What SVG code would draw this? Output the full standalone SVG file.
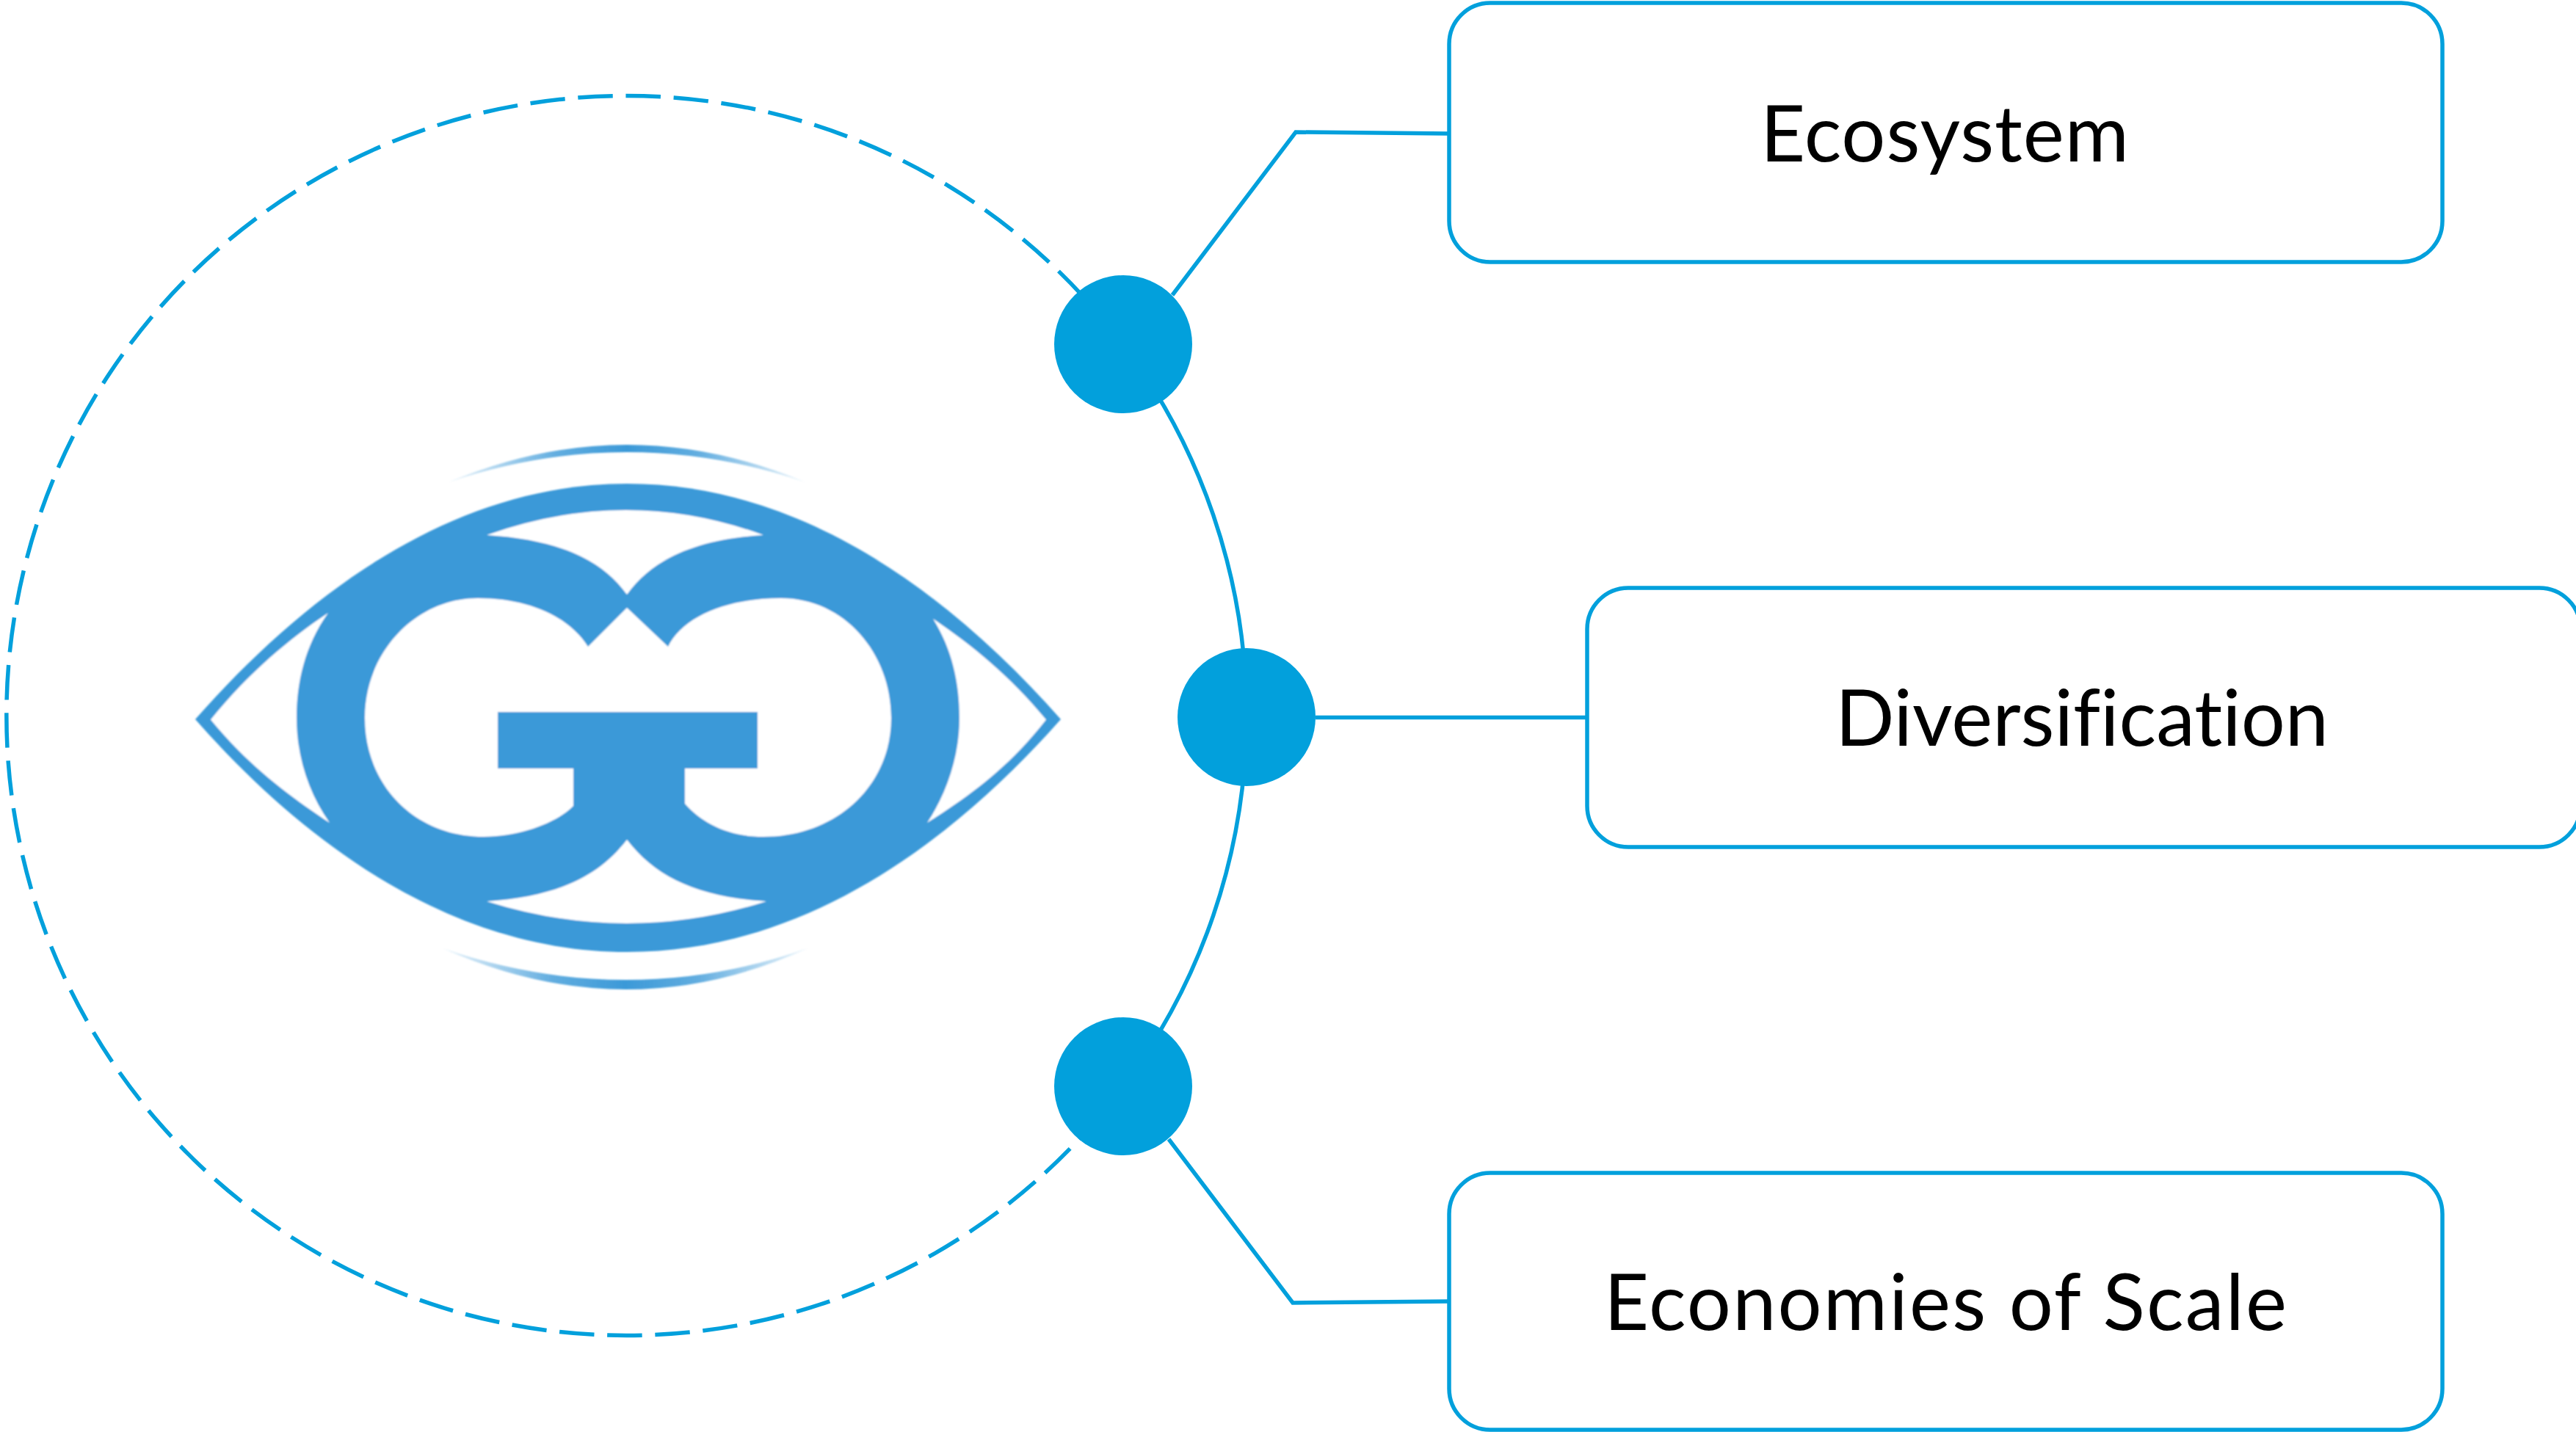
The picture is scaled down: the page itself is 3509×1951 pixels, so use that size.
<svg xmlns="http://www.w3.org/2000/svg" width="3509" height="1951" viewBox="0 0 3509 1951">
<defs>
<style>
.box{fill:#fff;stroke:#02A0DC;stroke-width:5.5}
.dot{fill:#02A0DC}
.line{fill:none;stroke:#02A0DC;stroke-width:5.5}
.dash{stroke-dasharray:47.5 17.7}
.lbl{font-family:"Lato","Open Sans",sans-serif;font-size:106px;fill:#000;font-variant-ligatures:none}
.lg{fill:#3B99D8}
.lw{fill:#fff}
</style>
<filter id="soft" x="-5%" y="-5%" width="110%" height="110%"><feGaussianBlur stdDeviation="1"/></filter>
<linearGradient id="fade" x1="0" y1="0" x2="1" y2="0">
<stop offset="0" stop-color="#3B99D8" stop-opacity="0.1"/>
<stop offset="0.3" stop-color="#3B99D8" stop-opacity="0.8"/>
<stop offset="0.5" stop-color="#3B99D8"/>
<stop offset="0.7" stop-color="#3B99D8" stop-opacity="0.8"/>
<stop offset="1" stop-color="#3B99D8" stop-opacity="0.1"/>
</linearGradient>
</defs>
<rect width="3509" height="1951" fill="#fff"/>
<g id="connectors">
<path class="line dash" d="M1475 403.4A844.5 844.5 0 1 0 1475 1546.6"/>
<path class="line" d="M1530 469A844.5 844.5 0 0 1 1530 1480"/>
<path class="line" d="M1597 402L1765 180L1974 182"/>
<path class="line" d="M1792 977.5H2162"/>
<path class="line" d="M1592 1552L1761 1775L1974 1773"/>
</g>
<g id="logo" filter="url(#soft)">
<path class="lg" d="M266 980C420 805 620 659 854 659C1090 659 1290 805 1445 980C1290 1155 1090 1297 854 1297C620 1297 420 1155 266 980Z"/>
<path class="lw" d="M663 729Q854 661 1040 729C950 735 890 760 854 810C818 760 757 735 663 729Z"/>
<path class="lw" d="M663 1228C757 1222 815 1195 854 1144C893 1195 950 1222 1044 1228Q854 1288 663 1228Z"/>
<path class="lw" d="M287 980.6C340 915 395 870 447 835C415 880 404 930 404 978C404 1030 420 1080 449 1121C395 1085 340 1045 287 980.6Z"/>
<path class="lw" d="M1425 980.6C1375 920 1325 880 1271 843C1297 885 1307 930 1307 978C1307 1030 1290 1080 1263 1121C1320 1085 1375 1045 1425 980.6Z"/>
<path class="lw" d="M854 828L910 881C930 840 990 815 1064 815C1150 815 1214 890 1214 978C1214 1070 1140 1140 1040 1140C990 1140 955 1120 933 1095V1047H1032V970H678V1047H781V1098C760 1120 710 1140 659 1140C565 1140 497 1070 497 978C497 890 565 815 651 815C720 815 775 840 801 881Z"/>
<path fill="url(#fade)" d="M611 657Q854 555 1097 657Q854 575 611 657Z"/>
<path fill="url(#fade)" d="M603 1292Q854 1404 1100 1292Q854 1378 603 1292Z"/>
</g>
<g id="dot-1"><circle class="dot" cx="1530" cy="469" r="94"/></g>
<g id="dot-2"><circle class="dot" cx="1698" cy="977" r="94"/></g>
<g id="dot-3"><circle class="dot" cx="1530" cy="1480" r="94"/></g>
<g id="node-ecosystem">
<rect class="box" x="1974" y="4" width="1353" height="353" rx="56"/>
<text class="lbl" x="2398" y="220" textLength="502" lengthAdjust="spacing">Ecosystem</text>
</g>
<g id="node-diversification">
<rect class="box" x="2162" y="801" width="1353" height="353" rx="56"/>
<text class="lbl" x="2500" y="1016" textLength="672" lengthAdjust="spacing">Diversification</text>
</g>
<g id="node-economies">
<rect class="box" x="1974" y="1598" width="1353" height="350" rx="56"/>
<text class="lbl" x="2185" y="1812" textLength="930" lengthAdjust="spacing">Economies of Scale</text>
</g>
</svg>
